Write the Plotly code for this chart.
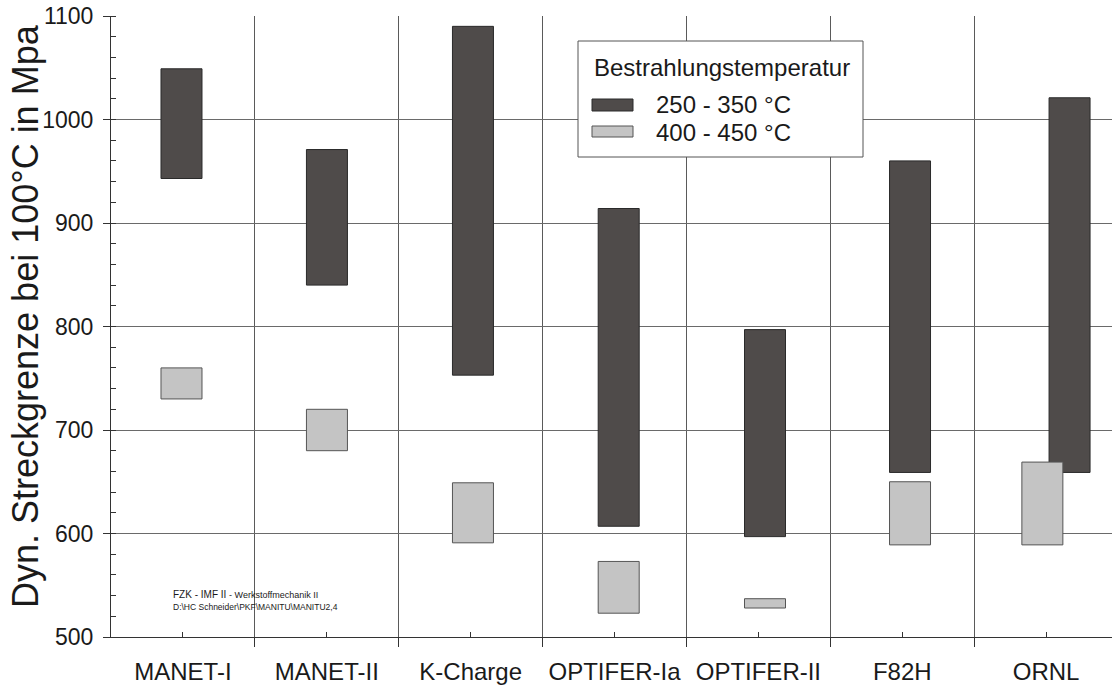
import plotly.graph_objects as go

# Materials and dynamic yield strength ranges (MPa) at 100 °C
materials = ["MANET-I", "MANET-II", "K-Charge", "OPTIFER-Ia", "OPTIFER-II", "F82H", "ORNL"]

low_temp_min = [943, 840, 753, 607, 597, 659, 659]     # 250 - 350 °C
low_temp_max = [1049, 971, 1090, 914, 797, 960, 1021]

high_temp_min = [730, 680, 591, 523, 528, 589, 589]    # 400 - 450 °C
high_temp_max = [760, 720, 649, 573, 537, 650, 669]

y_ticks = [500, 600, 700, 800, 900, 1000, 1100]

# small horizontal placement of each bar inside its category slot
shift_dark = [-0.010, 0.001, 0.016, 0.029, 0.046, 0.054, 0.163]
shift_light = [-0.010, 0.001, 0.016, 0.029, 0.046, 0.054, -0.026]

W, H = 1112, 687
ML, MR, MT, MB = 111, 0, 16, 50
X_RANGE = [-0.5, 6.458]
BAR_W = 0.285
FONT = "Liberation Sans, Arial, sans-serif"
TXT = "#1a1a1a"
DARK = "#4f4b4a"
LIGHT = "#c4c4c4"


def px(x):
    return (x - ML) / (W - ML - MR)


def py(y):
    return (H - MB - y) / (H - MT - MB)


xs = list(range(len(materials)))

fig = go.Figure()
fig.add_trace(go.Bar(
    x=[i + s for i, s in zip(xs, shift_dark)],
    y=[hi - lo for lo, hi in zip(low_temp_min, low_temp_max)],
    base=low_temp_min,
    width=BAR_W,
    marker=dict(color=DARK, line=dict(color="#2a2a2a", width=1)),
    name="250 - 350 °C",
    showlegend=False,
))
fig.add_trace(go.Bar(
    x=[i + s for i, s in zip(xs, shift_light)],
    y=[hi - lo for lo, hi in zip(high_temp_min, high_temp_max)],
    base=high_temp_min,
    width=BAR_W,
    marker=dict(color=LIGHT, line=dict(color="#555555", width=1)),
    name="400 - 450 °C",
    showlegend=False,
))

fig.update_layout(
    width=W, height=H,
    margin=dict(l=ML, r=MR, t=MT, b=MB),
    paper_bgcolor="white", plot_bgcolor="white",
    barmode="overlay",
    font=dict(family=FONT, color=TXT),
    showlegend=False,
)

fig.update_xaxes(
    range=X_RANGE,
    tickmode="array", tickvals=xs, ticktext=materials,
    tickfont=dict(size=24, color=TXT),
    ticks="inside", ticklen=5, tickcolor="#333333", tickwidth=1,
    ticklabelstandoff=13,
    showgrid=False, zeroline=False,
    showline=True, linecolor="#333333", linewidth=1,
    minor=dict(
        tickmode="array",
        tickvals=[i - 0.5 for i in range(len(materials) + 1)],
        ticks="outside", ticklen=9, tickcolor="#333333", tickwidth=1,
        showgrid=True, gridcolor="#5a5a5a", gridwidth=1,
    ),
)

fig.update_yaxes(
    range=[500, 1100],
    tickmode="array", tickvals=y_ticks,
    tickfont=dict(size=23, color=TXT),
    ticks="outside", ticklen=7, tickcolor="#333333", tickwidth=1,
    ticklabelstandoff=5,
    showgrid=True, gridcolor="#6a6a6a", gridwidth=1,
    zeroline=False,
    showline=True, linecolor="#333333", linewidth=1,
    minor=dict(dtick=20, tick0=500, ticks="inside", ticklen=5,
               tickcolor="#333333", tickwidth=1, showgrid=False),
)

# Legend box drawn by hand
shapes = [
    dict(type="rect", xref="paper", yref="paper", layer="above",
         x0=px(578), x1=px(863), y0=py(41), y1=py(157),
         fillcolor="white", line=dict(color="#555555", width=1)),
    dict(type="rect", xref="paper", yref="paper", layer="above",
         x0=px(592), x1=px(633), y0=py(99), y1=py(111),
         fillcolor=DARK, line=dict(color="#2a2a2a", width=1)),
    dict(type="rect", xref="paper", yref="paper", layer="above",
         x0=px(592), x1=px(633), y0=py(126), y1=py(137),
         fillcolor=LIGHT, line=dict(color="#555555", width=1)),
]
fig.update_layout(shapes=shapes)

annotations = [
    dict(text="Bestrahlungstemperatur", x=px(592), y=py(67),
         xanchor="left", yanchor="middle", font=dict(size=24, color=TXT)),
    dict(text="250 - 350 °C", x=px(654), y=py(105),
         xanchor="left", yanchor="middle", font=dict(size=24, color=TXT)),
    dict(text="400 - 450 °C", x=px(654), y=py(132),
         xanchor="left", yanchor="middle", font=dict(size=24, color=TXT)),
    dict(text="Dyn. Streckgrenze bei 100°C in Mpa", textangle=-90,
         x=px(25), y=py(316), xanchor="center", yanchor="middle",
         font=dict(size=36, color=TXT)),
    dict(text="FZK - IMF II <span style='font-size:9px'>- Werkstoffmechanik II</span>",
         x=px(171), y=py(594), xanchor="left", yanchor="middle",
         font=dict(size=10, color=TXT)),
    dict(text="D:\\HC Schneider\\PKF\\MANITU\\MANITU2,4",
         x=px(171), y=py(607), xanchor="left", yanchor="middle",
         font=dict(size=8.5, color=TXT)),
]
for a in annotations:
    a.update(xref="paper", yref="paper", showarrow=False)
fig.update_layout(annotations=annotations)

fig.write_html("out.html")
